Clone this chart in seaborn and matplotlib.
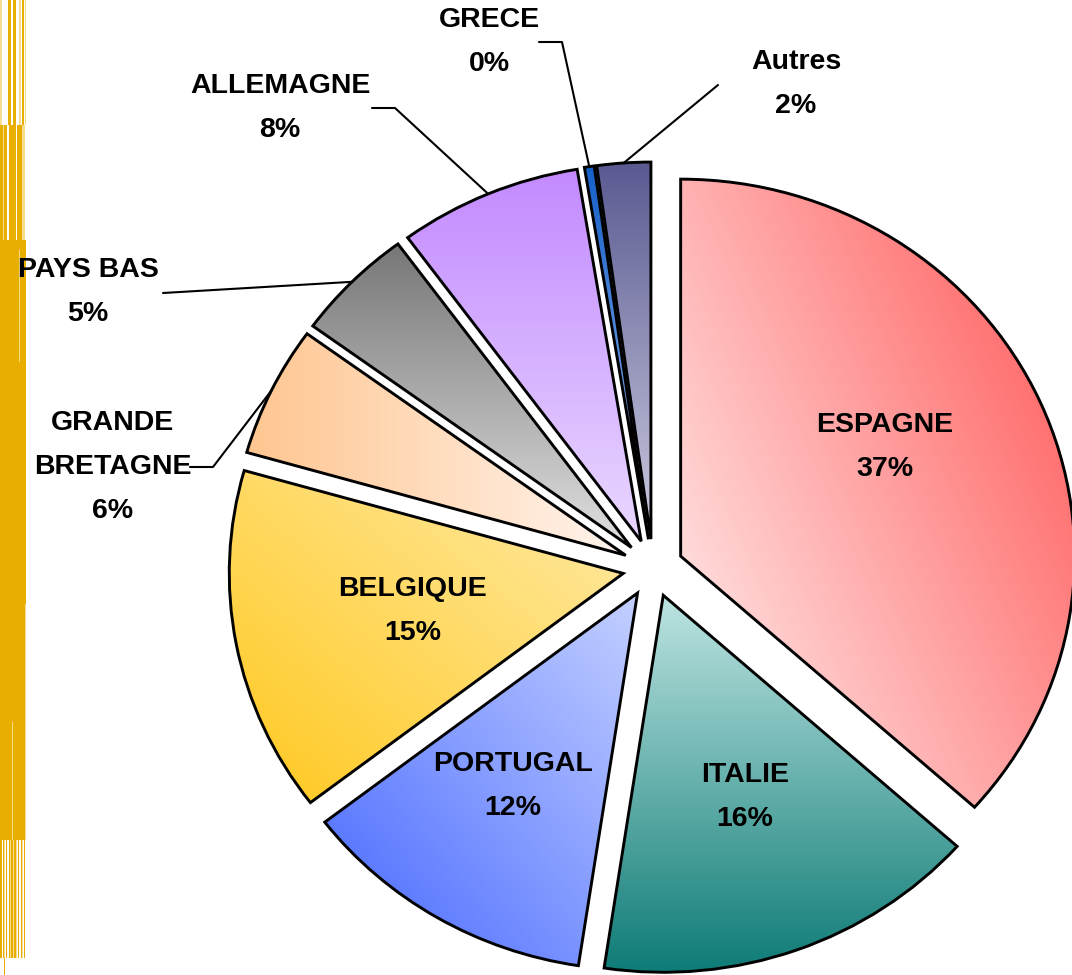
"""Pie chart of shares by country (exploded slices, gradient fills)."""
import numpy as np
import matplotlib
matplotlib.use('Agg')
import matplotlib.pyplot as plt
from matplotlib.patches import Rectangle
import seaborn as sns

# data
countries = ['ESPAGNE', 'ITALIE', 'PORTUGAL', 'BELGIQUE', 'GRANDE\nBRETAGNE',
             'PAYS BAS', 'ALLEMAGNE', 'GRECE', 'Autres']
shares = [36.6, 15.8, 12.2, 14.8, 5.6, 4.9, 7.5, 0.4, 2.2]

# gradient colours per slice: (start colour, end colour, direction in degrees)
grad_colors = [
    ('#FFF4F4', '#FF5252', 35),
    ('#0F7C77', '#BDE4E1', 90),
    ('#4466FF', '#C4D0FF', 45),
    ('#FFC81E', '#FFEBA8', 45),
    ('#FFC690', '#FFF4EE', 0),
    ('#E0E0E0', '#777777', 90),
    ('#E9D8FF', '#C38AFF', 90),
    ('#9AB8EE', '#1560C8', 90),
    ('#CCCCE0', '#5A5A92', 90),
]

# label placement in image pixels (centre of the text block)
label_pos = [(885, 447), (745, 797), (513, 786), (413, 611), (113, 467),
             (88, 292), (280, 108), (489, 42), (796, 84)]
# leader lines for outside labels: index -> points from the label towards the slice
leaders = {
    4: [(190, 467), (213, 467)],
    5: [(163, 293)],
    6: [(372, 108), (395, 108)],
    7: [(539, 42), (562, 42)],
    8: [(718, 85)],
}

W, H = 1072, 975
SX = 1.045          # horizontal stretch of the pie
CX, CY = 653, 568   # pie centre in pixels
R = 377
EXPLODE = 29
GOLD = '#E8AE00'
PALE = '#F6DC8E'

sns.set_theme(style='white')
plt.rcParams['font.family'] = ['Liberation Sans', 'DejaVu Sans']


def px(x, y):
    return x / SX, H - y


def fill_gradient(ax, wedge, c0, c1, angle):
    bb = wedge.get_path().get_extents()
    X, Y = np.meshgrid(np.linspace(0, 1, 200), np.linspace(0, 1, 200))
    a = np.deg2rad(angle)
    T = X * np.cos(a) + Y * np.sin(a)
    T = (T - T.min()) / (T.max() - T.min())
    cmap = sns.blend_palette([c0, c1], as_cmap=True)
    im = ax.imshow(T, cmap=cmap, extent=[bb.x0, bb.x1, bb.y0, bb.y1],
                   origin='lower', aspect='auto', interpolation='bilinear', zorder=0.5)
    im.set_clip_path(wedge)


fig = plt.figure(figsize=(W / 100, H / 100), dpi=100)

# decorative stripes on the left edge (figure pixels: x, width, y0, y1, colour)
stripes = [
    (8, 3, 0, 125, GOLD), (13, 3, 0, 125, GOLD), (22, 2, 0, 125, GOLD),
    (0, 1.5, 0, 125, PALE), (19, 1.5, 0, 125, PALE), (24.5, 1.5, 0, 125, PALE),
    (0, 3, 125, 240, GOLD), (3, 1, 125, 240, PALE), (4, 3, 125, 240, GOLD),
    (9, 7, 125, 240, GOLD), (17, 4.5, 125, 240, GOLD), (21.5, 3.5, 125, 240, PALE),
    (0, 26, 240, 840, GOLD),
    (19, 1.2, 250, 362, PALE), (25, 1.2, 604, 840, PALE), (12, 1.2, 722, 840, PALE),
    (4, 1, 958, 975, GOLD),
]
for x0 in [0, 2.5, 5.5, 8.5, 11, 14.5, 17.5, 20.5, 23.5]:
    stripes.append((x0, 1.5, 840, 958, GOLD))
for x0 in [4.2, 10, 13, 16, 22]:
    stripes.append((x0, 1, 840, 958, PALE))
for x0, w, y0, y1, c in stripes:
    fig.patches.append(Rectangle((x0 / W, 1 - y1 / H), w / W, (y1 - y0) / H,
                                 transform=fig.transFigure, color=c, lw=0, zorder=-1))

ax = fig.add_axes([0, 0, 1, 1])
ax.patch.set_alpha(0)
wedges, _ = ax.pie(shares, explode=[EXPLODE] * len(shares), startangle=90,
                   counterclock=False, radius=R, center=px(CX, CY),
                   wedgeprops=dict(edgecolor='black', linewidth=2.1, facecolor='none'))

for w, (c0, c1, ang) in zip(wedges, grad_colors):
    w.set_zorder(1)
    fill_gradient(ax, w, c0, c1, ang)

for i, (name, v, pos) in enumerate(zip(countries, shares, label_pos)):
    ax.text(*px(*pos), f'{name}\n{v:.0f}%', ha='center', va='center',
            multialignment='center', fontsize=20.5, fontweight='bold',
            linespacing=1.9, color='black', zorder=3)
    if i in leaders:
        w = wedges[i]
        mid = np.deg2rad((w.theta1 + w.theta2) / 2)
        anchor = (w.center[0] + w.r * np.cos(mid), w.center[1] + w.r * np.sin(mid))
        pts = [px(*p) for p in leaders[i]] + [anchor]
        ax.plot([p[0] for p in pts], [p[1] for p in pts], color='black', lw=1.5, zorder=2)

ax.set_xlim(0, W / SX)
ax.set_ylim(0, H)
ax.set_aspect('auto')
ax.axis('off')

fig.savefig('out.png', dpi=100)
